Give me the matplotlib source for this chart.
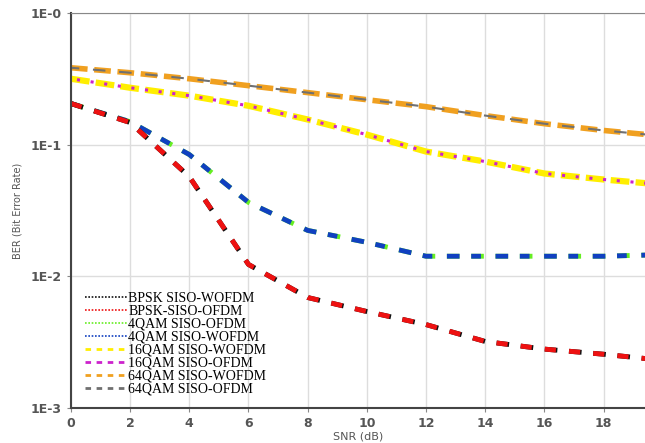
import matplotlib

matplotlib.use("Agg")
import matplotlib.pyplot as plt
from matplotlib.lines import Line2D

# SNR points (dB)
snr = [0, 2, 4, 6, 8, 10, 12, 14, 16, 18, 20]

# BER values
bpsk_ofdm = [0.205, 0.147, 0.057, 0.0123, 0.0069, 0.0054, 0.0043, 0.0032, 0.0028, 0.00256, 0.0023]
bpsk_wofdm = [0.205, 0.147, 0.057, 0.0123, 0.0069, 0.0054, 0.0043, 0.0032, 0.0028, 0.00256, 0.0023]
qam4_ofdm = [0.205, 0.149, 0.084, 0.0364, 0.0223, 0.0181, 0.0142, 0.0142, 0.0142, 0.0142, 0.0146]
qam4_wofdm = [0.205, 0.149, 0.084, 0.0364, 0.0223, 0.0181, 0.0142, 0.0142, 0.0142, 0.0142, 0.0146]
qam16_wofdm = [0.316, 0.270, 0.235, 0.197, 0.155, 0.119, 0.0885, 0.0743, 0.0603, 0.0543, 0.0496]
qam16_ofdm = [0.316, 0.270, 0.235, 0.197, 0.155, 0.119, 0.0885, 0.0743, 0.0603, 0.0543, 0.0496]
qam64_wofdm = [0.383, 0.351, 0.316, 0.280, 0.248, 0.219, 0.194, 0.166, 0.144, 0.128, 0.116]
qam64_ofdm = [0.383, 0.351, 0.316, 0.280, 0.248, 0.219, 0.194, 0.166, 0.144, 0.128, 0.116]

labels = [
    "BPSK SISO-WOFDM",
    "BPSK-SISO-OFDM",
    "4QAM SISO-OFDM",
    "4QAM SISO-WOFDM",
    "16QAM SISO-WOFDM",
    "16QAM SISO-OFDM",
    "64QAM SISO-WOFDM",
    "64QAM SISO-OFDM",
]
colors = ["#111111", "#ee1111", "#66ee22", "#1040c0", "#ffee00", "#cc22cc", "#f0a020", "#707070"]

fig = plt.figure(figsize=(6.45, 4.43), dpi=100)
ax = fig.add_axes([0.110, 0.079, 0.89, 0.892])

# overlapping pairs: dashed bottom layer, partly covering top layer, white gaps kept
ax.plot(snr, qam64_wofdm, color=colors[6], lw=4, linestyle=(0, (3, 1.2)))
ax.plot(snr, qam64_ofdm, color=colors[7], lw=1.5, linestyle=(2, (6, 6.6)))
ax.plot(snr, qam16_wofdm, color=colors[4], lw=4.5, linestyle=(0, (3, 1.0)))
ax.plot(snr, qam16_ofdm, color=colors[5], lw=2.2, linestyle=(-2, (1, 3.5)))
ax.plot(snr, qam4_ofdm, color=colors[2], lw=3.5, linestyle=(0, (2.6, 2.4)))
ax.plot(snr, qam4_wofdm, color=colors[3], lw=3.5, linestyle=(0, (2.0, 8.0)))
ax.plot(snr, qam4_wofdm, color=colors[3], lw=3.5, linestyle=(5, (2.6, 7.4)))
ax.plot(snr, bpsk_wofdm, color=colors[0], lw=3.5, linestyle=(0, (2.6, 2.4)))
ax.plot(snr, bpsk_ofdm, color=colors[1], lw=3.5, linestyle=(0, (2.3, 2.7)))

ax.set_yscale("log")
ax.set_ylim(1e-3, 1)
ax.set_xlim(0, 19.4)
ax.set_xticks(range(0, 20, 2))
ax.set_yticks([1e-3, 1e-2, 1e-1, 1])
ax.set_yticklabels(["1E-3", "1E-2", "1E-1", "1E-0"])
ax.minorticks_off()
ax.tick_params(axis="both", colors="#888888", labelcolor="#555555", labelsize=9, length=3)
for t in ax.get_xticklabels() + ax.get_yticklabels():
    t.set_fontweight("bold")

ax.grid(True, color="#dddddd", lw=1)
ax.set_axisbelow(True)
ax.spines["left"].set_color("#444444")
ax.spines["left"].set_linewidth(1.5)
ax.spines["bottom"].set_color("#444444")
ax.spines["bottom"].set_linewidth(1.5)
ax.spines["top"].set_color("#888888")
ax.spines["right"].set_visible(False)

ax.set_xlabel("SNR (dB)", fontsize=8, color="#555555", labelpad=1)
ax.set_ylabel("BER (Bit Error Rate)", fontsize=7, color="#555555", labelpad=6)

# legend: thin dotted markers for the first four, short dashes for the rest
handles = []
for i, c in enumerate(colors):
    if i < 4:
        handles.append(Line2D([], [], color=c, lw=1.2, dashes=(1, 1)))
    else:
        handles.append(Line2D([], [], color=c, lw=2, dashes=(2, 2)))
ax.legend(
    handles,
    labels,
    loc="lower left",
    bbox_to_anchor=(0.01, 0.01),
    frameon=False,
    prop={"family": "Liberation Serif", "size": 10},
    handlelength=3.0,
    handletextpad=0.1,
    labelspacing=0.0,
    borderaxespad=0.2,
)

fig.savefig("out.png", dpi=100)
